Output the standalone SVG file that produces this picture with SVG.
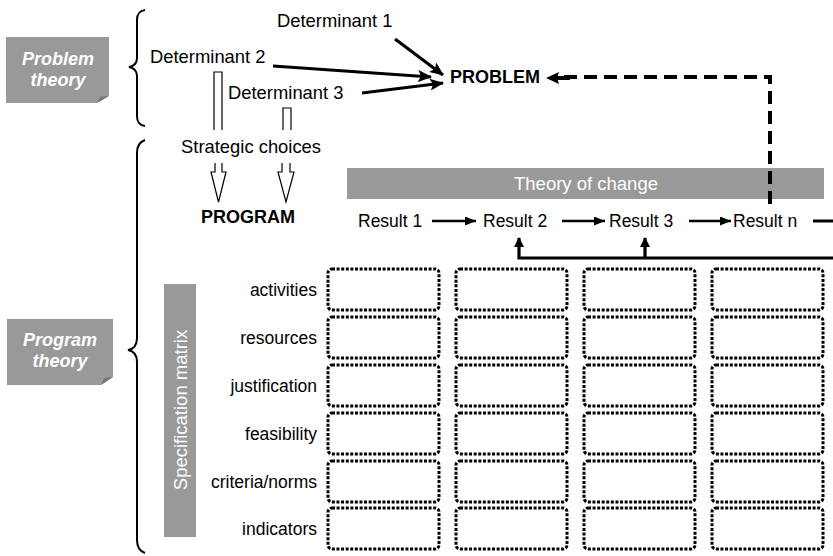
<svg xmlns="http://www.w3.org/2000/svg" width="833" height="556" viewBox="0 0 833 556">
<defs>
<style>
text{font-family:"Liberation Sans",Arial,sans-serif;fill:#000}
.t{font-size:17.5px}
.d{font-size:18.4px}
.b{font-size:18px;font-weight:bold}
.lab{font-size:18px;font-weight:bold;font-style:italic;fill:#fff;text-anchor:middle}
.w{fill:#fff;font-size:18.5px;text-anchor:middle}
.r{font-size:17.5px;text-anchor:end}
.cell{fill:none;stroke:#000;stroke-width:3;stroke-dasharray:3 1.6}
.gray{fill:#999}
.fold{fill:#777}
.brace{fill:none;stroke:#000;stroke-width:2}
.hollow{fill:#fff;stroke:#000;stroke-width:1.2}
.arr{fill:none;stroke:#000;stroke-width:3.2}
.thin{fill:none;stroke:#000;stroke-width:2.4}
.dash{fill:none;stroke:#000;stroke-width:4;stroke-dasharray:13 7}
</style>
<marker id="ah" markerUnits="userSpaceOnUse" markerWidth="14" markerHeight="12" refX="13" refY="6" orient="auto"><path d="M0,0 L14,6 L0,12 L3,6 Z" fill="#000"/></marker>
<marker id="ahs" markerUnits="userSpaceOnUse" markerWidth="11" markerHeight="9" refX="11" refY="4.5" orient="auto"><path d="M0,0 L11,4.5 L0,9 Z" fill="#000"/></marker>
<marker id="ahu" markerUnits="userSpaceOnUse" markerWidth="10" markerHeight="10" refX="9" refY="5" orient="auto"><path d="M0,0 L10,5 L0,10 Z" fill="#000"/></marker>
</defs>

<g id="problem-theory-label">
<polygon class="gray" points="6,37 109,37 109,96 97,103 6,103"/>
<polygon class="fold" points="109,96 97,103 100,97"/>
<text class="lab" x="58" y="65">Problem</text>
<text class="lab" x="58" y="86">theory</text>
</g>
<g id="program-theory-label">
<polygon class="gray" points="7,319 113,319 113,377 101,385 7,385"/>
<polygon class="fold" points="113,377 101,385 104,378"/>
<text class="lab" x="60" y="346">Program</text>
<text class="lab" x="60" y="367">theory</text>
</g>

<g id="braces">
<path class="brace" d="M145,10 C139,11 137,14 137,20 L137,58 C137,63 134,66 129,67 C134,68 137,71 137,76 L137,116 C137,122 139,125 145,126"/>
<path class="brace" d="M145,140 C139,142 137,146 137,153 L137,338 C137,345 134,349 128,350 C134,351 137,355 137,362 L137,540 C137,547 139,551 145,553"/>
</g>

<g id="determinant-1"><text class="d" x="277" y="27">Determinant 1</text></g>
<g id="determinant-2"><text class="d" x="150" y="63">Determinant 2</text></g>
<g id="determinant-3"><text class="d" x="228" y="99">Determinant 3</text></g>
<g id="problem"><text class="b" x="450" y="83">PROBLEM</text></g>
<g id="strategic-choices"><text class="d" x="181" y="153">Strategic choices</text></g>
<g id="program"><text class="b" x="248" y="223" text-anchor="middle">PROGRAM</text></g>

<g id="theory-of-change">
<rect class="gray" x="347" y="168" width="477" height="31"/>
<text class="w" x="586" y="190">Theory of change</text>
</g>
<g id="result-1"><text class="t" x="358" y="227">Result 1</text></g>
<g id="result-2"><text class="t" x="483" y="227">Result 2</text></g>
<g id="result-3"><text class="t" x="609" y="227">Result 3</text></g>
<g id="result-n"><text class="t" x="733" y="227">Result n</text></g>

<g id="specification-matrix">
<rect class="gray" x="164" y="284" width="32" height="253"/>
<text class="w" transform="translate(187,410) rotate(-90)">Specification matrix</text>
<text class="r" x="317" y="296">activities</text>
<text class="r" x="317" y="344">resources</text>
<text class="r" x="317" y="392">justification</text>
<text class="r" x="317" y="440">feasibility</text>
<text class="r" x="317" y="488">criteria/norms</text>
<text class="r" x="317" y="535">indicators</text>
</g>

<g id="matrix-cells">
<rect class="cell" x="328" y="269" width="111" height="41" rx="4"/>
<rect class="cell" x="456" y="269" width="111" height="41" rx="4"/>
<rect class="cell" x="584" y="269" width="111" height="41" rx="4"/>
<rect class="cell" x="712" y="269" width="111" height="41" rx="4"/>
<rect class="cell" x="328" y="317" width="111" height="41" rx="4"/>
<rect class="cell" x="456" y="317" width="111" height="41" rx="4"/>
<rect class="cell" x="584" y="317" width="111" height="41" rx="4"/>
<rect class="cell" x="712" y="317" width="111" height="41" rx="4"/>
<rect class="cell" x="328" y="365" width="111" height="41" rx="4"/>
<rect class="cell" x="456" y="365" width="111" height="41" rx="4"/>
<rect class="cell" x="584" y="365" width="111" height="41" rx="4"/>
<rect class="cell" x="712" y="365" width="111" height="41" rx="4"/>
<rect class="cell" x="328" y="413" width="111" height="41" rx="4"/>
<rect class="cell" x="456" y="413" width="111" height="41" rx="4"/>
<rect class="cell" x="584" y="413" width="111" height="41" rx="4"/>
<rect class="cell" x="712" y="413" width="111" height="41" rx="4"/>
<rect class="cell" x="328" y="461" width="111" height="41" rx="4"/>
<rect class="cell" x="456" y="461" width="111" height="41" rx="4"/>
<rect class="cell" x="584" y="461" width="111" height="41" rx="4"/>
<rect class="cell" x="712" y="461" width="111" height="41" rx="4"/>
<rect class="cell" x="328" y="508" width="111" height="41" rx="4"/>
<rect class="cell" x="456" y="508" width="111" height="41" rx="4"/>
<rect class="cell" x="584" y="508" width="111" height="41" rx="4"/>
<rect class="cell" x="712" y="508" width="111" height="41" rx="4"/>
</g>

<g id="connectors">
<line class="arr" x1="395" y1="39" x2="443" y2="75" marker-end="url(#ah)"/>
<line class="arr" x1="273" y1="66" x2="431" y2="77" marker-end="url(#ah)"/>
<line class="arr" x1="362" y1="93" x2="443" y2="83" marker-end="url(#ah)"/>
<path class="dash" d="M770,204 L770,77 L557,77"/>
<path d="M546,78 L559,72 L557,78 L559,84 Z" fill="#000"/>
<line x1="557" y1="78" x2="570" y2="78" stroke="#000" stroke-width="4"/>
<path class="hollow" d="M214,130 V72 H222 V130"/>
<path class="hollow" d="M283,130 V108 H291 V130"/>
<path class="hollow" d="M215,163 V172 H211 L218.5,202 L226,172 H222 V163"/>
<path class="hollow" d="M282,163 V172 H278 L286,202 L294,172 H290 V163"/>
<line class="thin" x1="432" y1="221" x2="476" y2="221" marker-end="url(#ahs)"/>
<line class="thin" x1="562" y1="221" x2="605" y2="221" marker-end="url(#ahs)"/>
<line class="thin" x1="689" y1="221" x2="731" y2="221" marker-end="url(#ahs)"/>
<line x1="813" y1="221" x2="833" y2="221" stroke="#000" stroke-width="3"/>
<path class="arr" d="M833,258 H519 V238" marker-end="url(#ahu)"/>
<line class="arr" x1="645" y1="258" x2="645" y2="238" marker-end="url(#ahu)"/>
</g>
</svg>
